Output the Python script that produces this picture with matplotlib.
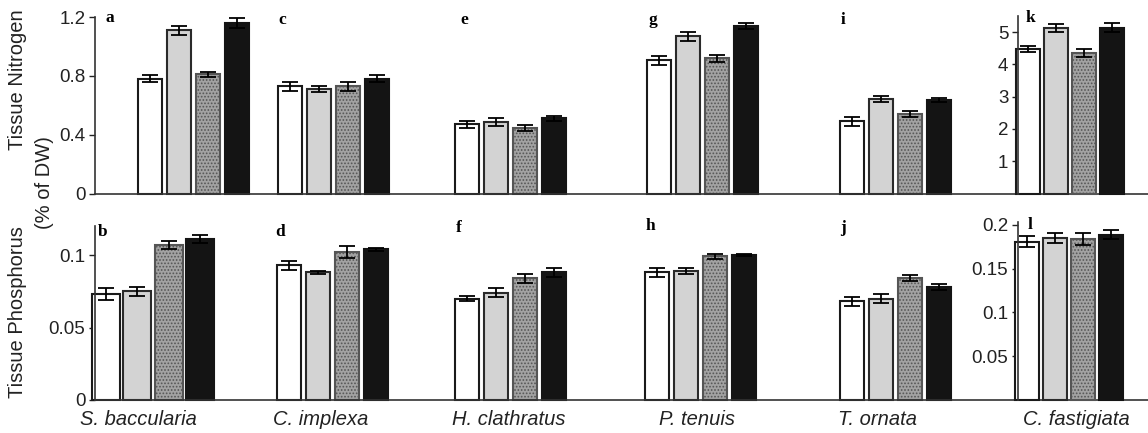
import numpy as np
import matplotlib.pyplot as plt

plt.rcParams['font.family'] = ['Liberation Sans', 'DejaVu Sans']

W, H = 1148, 433

species = ['S. baccularia', 'C. implexa', 'H. clathratus', 'P. tenuis', 'T. ornata', 'C. fastigiata']
top_letters = ['a', 'c', 'e', 'g', 'i', 'k']
bottom_letters = ['b', 'd', 'f', 'h', 'j', 'l']

# tissue nitrogen (% of DW), 4 treatments per species
nitrogen = [
    [0.78, 1.11, 0.81, 1.16],
    [0.73, 0.71, 0.73, 0.78],
    [0.47, 0.485, 0.445, 0.51],
    [0.905, 1.07, 0.92, 1.14],
    [0.49, 0.64, 0.54, 0.635],
    [4.47, 5.12, 4.36, 5.14],
]
nitrogen_err = [
    [0.025, 0.03, 0.015, 0.035],
    [0.03, 0.02, 0.03, 0.025],
    [0.025, 0.025, 0.02, 0.02],
    [0.03, 0.03, 0.025, 0.02],
    [0.03, 0.02, 0.02, 0.015],
    [0.1, 0.12, 0.12, 0.15],
]

# tissue phosphorus (% of DW)
phosphorus = [
    [0.073, 0.075, 0.107, 0.111],
    [0.093, 0.088, 0.102, 0.104],
    [0.070, 0.074, 0.084, 0.088],
    [0.088, 0.089, 0.099, 0.100],
    [0.068, 0.070, 0.084, 0.078],
    [0.181, 0.185, 0.184, 0.189],
]
phosphorus_err = [
    [0.004, 0.003, 0.003, 0.003],
    [0.003, 0.001, 0.004, 0.001],
    [0.002, 0.003, 0.003, 0.003],
    [0.003, 0.002, 0.002, 0.0005],
    [0.003, 0.003, 0.002, 0.002],
    [0.006, 0.006, 0.007, 0.005],
]

# layout (figure pixels)
top_centers = [193, 333, 510, 702, 895, 1070]
bottom_centers = [153, 332, 510, 700, 895, 1069]
label_x = [138, 321, 509, 697, 877, 1076]
top_letter_xy = [(110, 18), (282, 20), (464, 20), (653, 20), (843, 20), (1030, 18)]
bottom_letter_xy = [(103, 232), (280, 232), (459, 228), (650, 226), (843, 228), (1030, 225)]

fill = ['white', '#d3d3d3', '#a2a2a2', '#141414']
edge = ['#1a1a1a', '#2a2a2a', '#555555', '#141414']
hatch = [None, None, '.....', None]


def add_px_axes(x0, y0, x1, y1):
    ax = fig.add_axes([x0 / W, 1 - y1 / H, (x1 - x0) / W, (y1 - y0) / H])
    ax.set_xlim(x0, x1)
    ax.patch.set_alpha(0)
    for s in ['top', 'right']:
        ax.spines[s].set_visible(False)
    ax.tick_params(axis='y', direction='out', length=4, width=1, labelsize=13.5,
                   colors='#222222', pad=3)
    ax.tick_params(axis='x', length=0)
    ax.set_xticks([])
    return ax


def draw_group(ax, center, vals, errs, pitch=29, width=24):
    for i, (v, e) in enumerate(zip(vals, errs)):
        x = center + (i - 1.5) * pitch
        ax.bar(x, v, width=width, color=fill[i], edgecolor=edge[i], linewidth=1.5,
               hatch=hatch[i], clip_on=False, zorder=2)
        ax.errorbar(x, v, yerr=e, fmt='none', ecolor='black', elinewidth=1.3,
                    capsize=6, capthick=1.3, clip_on=False, zorder=3)


fig = plt.figure(figsize=(W / 100, H / 100), dpi=100)
plt.rcParams['hatch.color'] = '#555555'
plt.rcParams['hatch.linewidth'] = 0.8

# top row: nitrogen
ax_n = add_px_axes(95, 17, 1148, 193.5)
ax_n.set_ylim(0, 1.2)
ax_n.set_yticks([0, 0.4, 0.8, 1.2])
ax_n.set_yticklabels(['0', '0.4', '0.8', '1.2'])
for k in range(5):
    draw_group(ax_n, top_centers[k], nitrogen[k], nitrogen_err[k])

ax_nk = add_px_axes(1018, 16, 1148, 193.5)
ax_nk.spines['bottom'].set_visible(False)
ax_nk.set_ylim(0, 5.5)
ax_nk.set_yticks([1, 2, 3, 4, 5])
draw_group(ax_nk, top_centers[5], nitrogen[5], nitrogen_err[5], pitch=28)

# bottom row: phosphorus
ax_p = add_px_axes(95, 226, 1148, 400)
ax_p.set_ylim(0, 0.12)
ax_p.set_yticks([0, 0.05, 0.1])
ax_p.set_yticklabels(['0', '0.05', '0.1'])
draw_group(ax_p, bottom_centers[0], phosphorus[0], phosphorus_err[0], pitch=31.5, width=28)
for k in range(1, 5):
    draw_group(ax_p, bottom_centers[k], phosphorus[k], phosphorus_err[k])
ax_p.set_xticks(label_x)
ax_p.set_xticklabels(species, fontstyle='italic', fontsize=14.5, color='#222222')
ax_p.tick_params(axis='x', length=0, pad=7)

ax_pl = add_px_axes(1018, 222, 1148, 400)
ax_pl.spines['bottom'].set_visible(False)
ax_pl.set_ylim(0, 0.2034)
ax_pl.set_yticks([0.05, 0.1, 0.15, 0.2])
ax_pl.set_yticklabels(['0.05', '0.1', '0.15', '0.2'])
draw_group(ax_pl, bottom_centers[5], phosphorus[5], phosphorus_err[5], pitch=28)

for ax in [ax_n, ax_nk, ax_p, ax_pl]:
    for s in ['left', 'bottom']:
        ax.spines[s].set_linewidth(1.2)
        ax.spines[s].set_color('#333333')

# panel letters
for lab, (x, y) in zip(top_letters + bottom_letters, top_letter_xy + bottom_letter_xy):
    fig.text(x / W, 1 - y / H, lab, family=['Liberation Serif', 'DejaVu Serif'],
             fontweight='bold', fontsize=12.5, ha='center', va='center')

# y labels
fig.text(18 / W, 1 - 80 / H, 'Tissue Nitrogen', rotation=90, fontsize=14.5,
         ha='center', va='center', color='#222222')
fig.text(44 / W, 1 - 183 / H, '(% of DW)', rotation=90, fontsize=14.5,
         ha='center', va='center', color='#222222')
fig.text(18 / W, 1 - 312 / H, 'Tissue Phosphorus', rotation=90, fontsize=14.5,
         ha='center', va='center', color='#222222')

fig.savefig('out.png', dpi=100)
